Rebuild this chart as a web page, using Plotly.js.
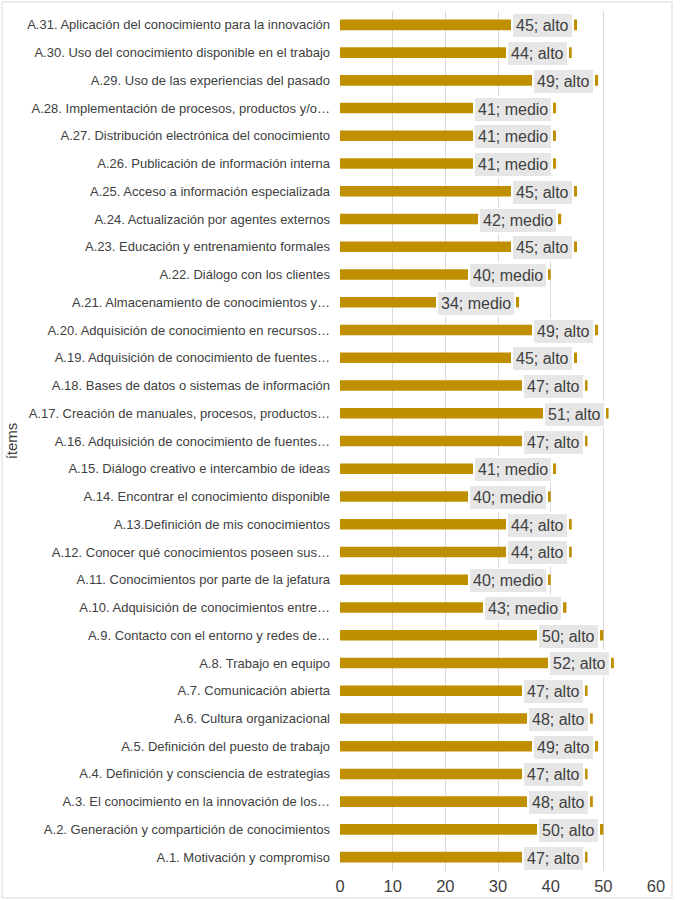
<!DOCTYPE html>
<html>
<head>
<meta charset="utf-8">
<script src="https://cdn.plot.ly/plotly-3.0.1.min.js"></script>
<style>html,body{margin:0;padding:0;background:#fff;}#chart{width:680px;height:900px;}</style>
</head>
<body>
<div id="chart"></div>
<script>
const items = [
  "A.1. Motivación y compromiso",
  "A.2. Generación y compartición de conocimientos",
  "A.3. El conocimiento en la innovación de los…",
  "A.4. Definición y consciencia de estrategias",
  "A.5. Definición del puesto de trabajo",
  "A.6. Cultura organizacional",
  "A.7. Comunicación abierta",
  "A.8. Trabajo en equipo",
  "A.9. Contacto con el entorno y redes de…",
  "A.10. Adquisición de conocimientos entre…",
  "A.11. Conocimientos por parte de la jefatura",
  "A.12. Conocer qué conocimientos poseen sus…",
  "A.13.Definición de mis conocimientos",
  "A.14. Encontrar el conocimiento disponible",
  "A.15. Diálogo creativo e intercambio de ideas",
  "A.16. Adquisición de conocimiento de fuentes…",
  "A.17. Creación de manuales, procesos, productos…",
  "A.18. Bases de datos o sistemas de información",
  "A.19. Adquisición de conocimiento de fuentes…",
  "A.20. Adquisición de conocimiento en recursos…",
  "A.21. Almacenamiento de conocimientos y…",
  "A.22. Diálogo con los clientes",
  "A.23. Educación y entrenamiento formales",
  "A.24. Actualización por agentes externos",
  "A.25. Acceso a información especializada",
  "A.26. Publicación de información interna",
  "A.27. Distribución electrónica del conocimiento",
  "A.28. Implementación de procesos, productos y/o…",
  "A.29. Uso de las experiencias del pasado",
  "A.30. Uso del conocimiento disponible en el trabajo",
  "A.31. Aplicación del conocimiento para la innovación"
];
const scores = [47,50,48,47,49,48,47,52,50,43,40,44,44,40,41,47,51,47,45,49,34,40,45,42,45,41,41,41,49,44,45];
const levels = ["alto","alto","alto","alto","alto","alto","alto","alto","alto","medio","medio","alto","alto","medio","medio","alto","alto","alto","alto","alto","medio","medio","alto","medio","alto","medio","medio","medio","alto","alto","alto"];
const xTicks = [0,10,20,30,40,50,60];

const trace = {
  type: 'bar',
  orientation: 'h',
  x: scores,
  y: items,
  width: 0.38,
  marker: {color: '#BF8F00'},
  hoverinfo: 'x+y'
};

const annotations = items.map((it, i) => ({
  x: scores[i], y: it, xref: 'x', yref: 'y',
  text: scores[i] + '; ' + levels[i],
  showarrow: false,
  xanchor: 'right', yanchor: 'middle',
  xshift: -3, yshift: -1,
  bgcolor: '#E6E6E6',
  bordercolor: '#FFFFFF', borderwidth: 2, borderpad: 3,
  font: {family: 'Liberation Sans, Arial, sans-serif', size: 16, color: '#404040'}
}));

annotations.push({
  xref: 'paper', yref: 'paper', x: -1.04, y: 0.5,
  text: 'ítems', textangle: -90, showarrow: false,
  xanchor: 'center', yanchor: 'middle',
  font: {family: 'Liberation Sans, Arial, sans-serif', size: 15, color: '#404040'}
});

const layout = {
  width: 680, height: 900,
  margin: {l: 340, r: 24, t: 11, b: 29},
  paper_bgcolor: '#FFFFFF', plot_bgcolor: '#FFFFFF',
  showlegend: false,
  bargap: 0.62,
  xaxis: {
    range: [0, 60], tickvals: xTicks, ticktext: xTicks.map(String),
    showgrid: true, gridcolor: '#D9D9D9', gridwidth: 1,
    zeroline: false, showline: false, ticks: '',
    ticklabelstandoff: 3,
    tickfont: {family: 'Liberation Sans, Arial, sans-serif', size: 16.5, color: '#404040'}
  },
  yaxis: {
    type: 'category', categoryorder: 'array', categoryarray: items,
    range: [-0.5, items.length - 0.5],
    showgrid: false, zeroline: false, showline: false, ticks: '',
    ticklabelstandoff: 9,
    tickfont: {family: 'Liberation Sans, Arial, sans-serif', size: 13, color: '#404040'},
    automargin: false
  },
  annotations: annotations,
  shapes: [{
    type: 'rect', xref: 'paper', yref: 'paper',
    x0: -1.0696, x1: 1.0506, y0: -0.0314, y1: 1.0105,
    line: {color: '#D9D9D9', width: 1}, fillcolor: 'rgba(0,0,0,0)'
  }]
};

Plotly.newPlot('chart', [trace], layout, {displayModeBar: false, staticPlot: true});
</script>
</body>
</html>
